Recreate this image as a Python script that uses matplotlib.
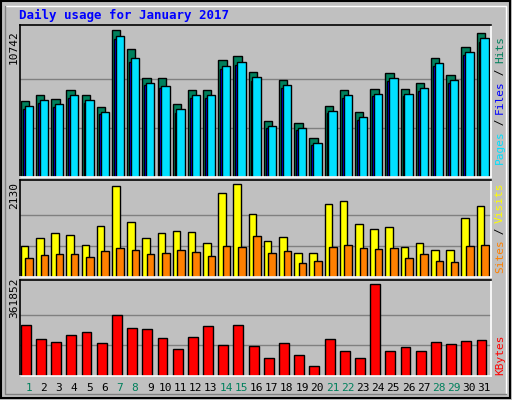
import numpy as np
import matplotlib.pyplot as plt

days = list(range(1, 32))
weekend = [1, 7, 8, 14, 15, 21, 22, 28, 29]

hits = [5556, 5994, 5702, 6360, 5994, 5117, 10742, 9357, 7237, 7237, 5336, 6360, 6360, 8553, 8845, 7676,
        4094, 7091, 3947, 2851, 5190, 6360, 4752, 6433, 7602, 6433, 6872, 8699, 7456, 9503, 10527]
files = [4960, 5400, 5150, 5800, 5400, 4600, 10100, 8400, 6700, 6500, 4700, 5800, 5800, 7900, 8200, 7000,
         3600, 6500, 3450, 2350, 4650, 5800, 4200, 5900, 7000, 5900, 6300, 8100, 6900, 8900, 9900]
pages = [5190, 5630, 5340, 6000, 5630, 4750, 10270, 8670, 6900, 6680, 4970, 6000, 6000, 8090, 8440, 7310,
         3730, 6720, 3580, 2490, 4820, 6000, 4380, 6070, 7240, 6070, 6500, 8330, 7090, 9140, 10160]
visits = [715, 900, 1015, 969, 738, 1177, 2076, 1269, 900, 1015, 1061, 1038, 784, 1915, 2130, 1453,
          835, 927, 559, 559, 1662, 1731, 1203, 1111, 1157, 697, 789, 628, 628, 1341, 1617]
sites = [438, 508, 531, 531, 461, 600, 669, 623, 531, 554, 623, 577, 484, 715, 692, 946,
         559, 605, 329, 375, 697, 743, 674, 651, 674, 444, 536, 375, 352, 720, 743]
kbytes = [202000, 147000, 135000, 162000, 174000, 131000, 242000, 190000, 186000, 151000, 107000,
          155000, 198000, 123000, 202000, 119000, 71000, 131000, 83000, 40000, 147000, 99000, 71000,
          361852, 99000, 115000, 99000, 135000, 127000, 139000, 143000]

BG = '#C0C0C0'
W, H = 512, 400
fig = plt.figure(figsize=(W / 100, H / 100), dpi=100, facecolor=BG)
plt.rcParams['font.family'] = 'DejaVu Sans Mono'

# outer frame
frame = fig.add_axes([0, 0, 1, 1], facecolor='none')
frame.set_xlim(0, W); frame.set_ylim(H, 0); frame.axis('off')
frame.add_patch(plt.Rectangle((1, 1), W - 3, H - 3, fill=False, ec='black', lw=1.5))
frame.plot([5, W - 6, W - 6], [6, 6, H - 6], color='white', lw=1)
frame.plot([5, 5, W - 6], [6, H - 6, H - 6], color='#808080', lw=1)
fig.text(19 / W, 1 - 15 / H, 'Daily usage for January 2017', color='#0000FF',
         fontsize=9, fontweight='bold', va='center', ha='left')

x = np.array(days)
L, R = 20, 491

def panel(top, bot):
    ax = fig.add_axes([L / W, 1 - bot / H, (R - L) / W, (bot - top) / H], facecolor=BG)
    ax.set_xlim(0.5, 31.5)
    ax.set_xticks([]); ax.set_yticks([])
    for s in ax.spines.values():
        s.set_color('black'); s.set_linewidth(1.2)
    ax.spines['bottom'].set_color('white')
    ax.spines['right'].set_color('white')
    return ax

ek = dict(edgecolor='black', linewidth=1, align='edge')

ax1 = panel(25, 177)
m = max(hits)
ax1.set_ylim(0, m * 152 / 147)
for f in (1 / 3, 2 / 3):
    ax1.axhline(m * f, color='#808080', lw=1, zorder=0)
ax1.bar(x - 0.45, hits, 0.55, color='#00805C', **ek)
ax1.bar(x - 0.32, files, 0.5, color='#0000FF', **ek)
ax1.bar(x - 0.2, pages, 0.55, color='#00E0FF', **ek)

ax2 = panel(180, 277)
m = max(visits)
ax2.set_ylim(0, m * 96 / 92)
for f in (1 / 3, 2 / 3):
    ax2.axhline(m * f, color='#808080', lw=1, zorder=0)
ax2.bar(x - 0.45, visits, 0.5, color='#FFFF00', **ek)
ax2.bar(x - 0.15, sites, 0.5, color='#FF8000', **ek)

ax3 = panel(280, 376)
m = max(kbytes)
ax3.set_ylim(0, m * 95 / 91)
for f in (1 / 3, 2 / 3):
    ax3.axhline(m * f, color='#808080', lw=1, zorder=0)
ax3.bar(x - 0.45, kbytes, 0.65, color='#FF0000', **ek)

for d in days:
    xp = L + (d - 0.5) / 31 * (R - L) + 1
    fig.text(xp / W, 1 - 388 / H, str(d), ha='center', va='center', fontsize=8,
             color='#00805C' if d in weekend else 'black')

# left max labels
for yp, s in [(47, '10742'), (195, '2130'), (298, '361852')]:
    fig.text(14 / W, 1 - yp / H, s, rotation=90, ha='center', va='center', fontsize=8)

def right_label(yc, parts):
    total = sum(len(p) for p, _ in parts)
    cw = 6.3
    y = yc + total * cw / 2
    for p, c in parts:
        fig.text(500 / W, 1 - (y - len(p) * cw / 2) / H, p, rotation=90, color=c,
                 ha='center', va='center', fontsize=8)
        y -= len(p) * cw

right_label(100, [('Pages', '#00E0FF'), (' / ', 'black'), ('Files', '#0000FF'), (' / ', 'black'), ('Hits', '#00805C')])
right_label(228, [('Sites', '#FF8000'), (' / ', 'black'), ('Visits', '#FFFF00')])
right_label(355, [('KBytes', '#FF0000')])

fig.savefig('out.png', dpi=100, facecolor=BG)
